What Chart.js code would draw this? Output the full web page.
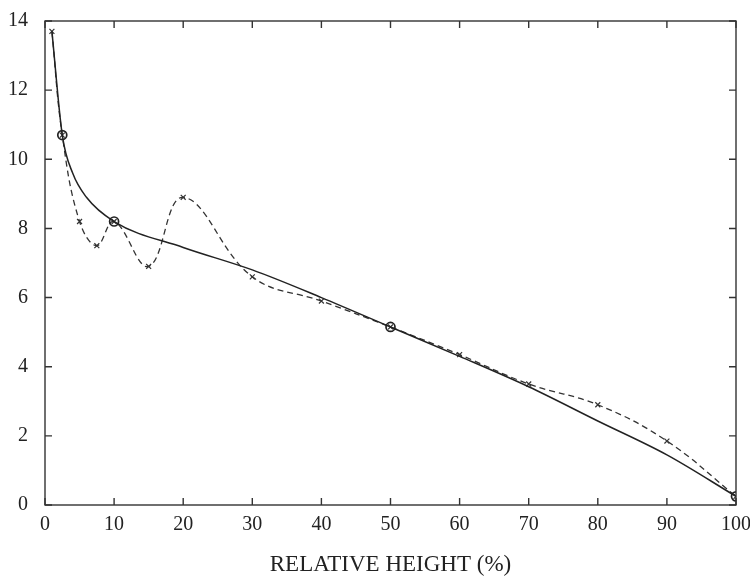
<!DOCTYPE html>
<html>
<head>
<meta charset="utf-8">
<script src="https://cdn.jsdelivr.net/npm/chart.js@4"></script>
<style>
  html, body { margin: 0; padding: 0; background: #fff; }
  #wrap { width: 750px; height: 583px; }
</style>
</head>
<body>
<div id="wrap"><canvas id="chart"></canvas></div>
<script>
// measured points (dashed, x markers)
var measX = [1, 2.5, 5, 7.5, 10, 15, 20, 30, 40, 50, 60, 70, 80, 90, 100];
var measY = [13.7, 10.7, 8.2, 7.5, 8.2, 6.9, 8.9, 6.6, 5.9, 5.15, 4.35, 3.5, 2.9, 1.85, 0.25];

// fitted curve (solid)
var fitX = [1, 2.5, 4, 6, 10, 20, 30, 40, 50, 60, 70, 80, 90, 100];
var fitY = [13.7, 10.7, 9.6, 8.9, 8.2, 7.45, 6.8, 6.0, 5.15, 4.3, 3.42, 2.43, 1.45, 0.25];
// circles drawn only at these x values
var fitMarked = [2.5, 10, 50, 100];

var xTicks = [0, 10, 20, 30, 40, 50, 60, 70, 80, 90, 100];
var yTicks = [0, 2, 4, 6, 8, 10, 12, 14];

var serif = '"Liberation Serif", "DejaVu Serif", serif';

function pts(xs, ys) {
    return xs.map(function(x, i) { return { x: x, y: ys[i] }; });
}

// frame + inward ticks on all four sides
var framePlugin = {
    id: 'frame',
    afterDatasetsDraw: function(chart) {
        var ctx = chart.ctx, a = chart.chartArea;
        var xs = chart.scales.x, ys = chart.scales.y;
        ctx.save();
        ctx.strokeStyle = '#333';
        ctx.lineWidth = 1.4;
        ctx.strokeRect(a.left, a.top, a.right - a.left, a.bottom - a.top);
        ctx.beginPath();
        xTicks.forEach(function(v) {
            var p = xs.getPixelForValue(v);
            ctx.moveTo(p, a.bottom); ctx.lineTo(p, a.bottom - 7);
            ctx.moveTo(p, a.top); ctx.lineTo(p, a.top + 7);
        });
        yTicks.forEach(function(v) {
            var p = ys.getPixelForValue(v);
            ctx.moveTo(a.left, p); ctx.lineTo(a.left + 7, p);
            ctx.moveTo(a.right, p); ctx.lineTo(a.right - 7, p);
        });
        ctx.stroke();
        ctx.restore();
    }
};

window.onload = function() {
    var ctx = document.getElementById('chart');
    new Chart(ctx, {
        type: 'line',
        data: {
            datasets: [{
                label: 'fit',
                data: pts(fitX, fitY),
                borderColor: '#222',
                borderWidth: 1.5,
                cubicInterpolationMode: 'monotone',
                pointStyle: 'circle',
                pointRadius: fitX.map(function(x) { return fitMarked.indexOf(x) >= 0 ? 4.5 : 0; }),
                pointBorderWidth: 1.7,
                pointBorderColor: '#222',
                pointBackgroundColor: 'rgba(0,0,0,0)'
            }, {
                label: 'measured',
                data: pts(measX, measY),
                borderColor: '#333',
                borderWidth: 1.3,
                borderDash: [6, 4],
                tension: 0.4,
                pointStyle: 'crossRot',
                pointRadius: 3.5,
                pointBorderWidth: 1.2,
                pointBorderColor: '#333'
            }]
        },
        options: {
            responsive: true,
            maintainAspectRatio: false,
            animation: false,
            layout: { padding: { top: 17, right: 0, left: 0, bottom: 0 } },
            plugins: {
                legend: { display: false },
                tooltip: { enabled: false }
            },
            scales: {
                x: {
                    type: 'linear',
                    min: 0, max: 100,
                    grid: { display: false },
                    border: { display: false },
                    afterBuildTicks: function(s) { s.ticks = xTicks.map(function(v) { return { value: v }; }); },
                    ticks: { color: '#222', font: { family: serif, size: 20 }, padding: 0, maxRotation: 0 },
                    title: {
                        display: true,
                        text: 'RELATIVE HEIGHT (%)',
                        color: '#222',
                        font: { family: serif, size: 23 },
                        padding: { top: 16, bottom: 4 }
                    },
                    afterFit: function(s) { s.height = 78; s.paddingRight = 14; }
                },
                y: {
                    min: 0, max: 14,
                    grid: { display: false },
                    border: { display: false },
                    afterBuildTicks: function(s) { s.ticks = yTicks.map(function(v) { return { value: v }; }); },
                    ticks: { color: '#222', font: { family: serif, size: 20 }, padding: 9 },
                    afterFit: function(s) { s.width = 45; }
                }
            }
        },
        plugins: [framePlugin]
    });
};
</script>
</body>
</html>
